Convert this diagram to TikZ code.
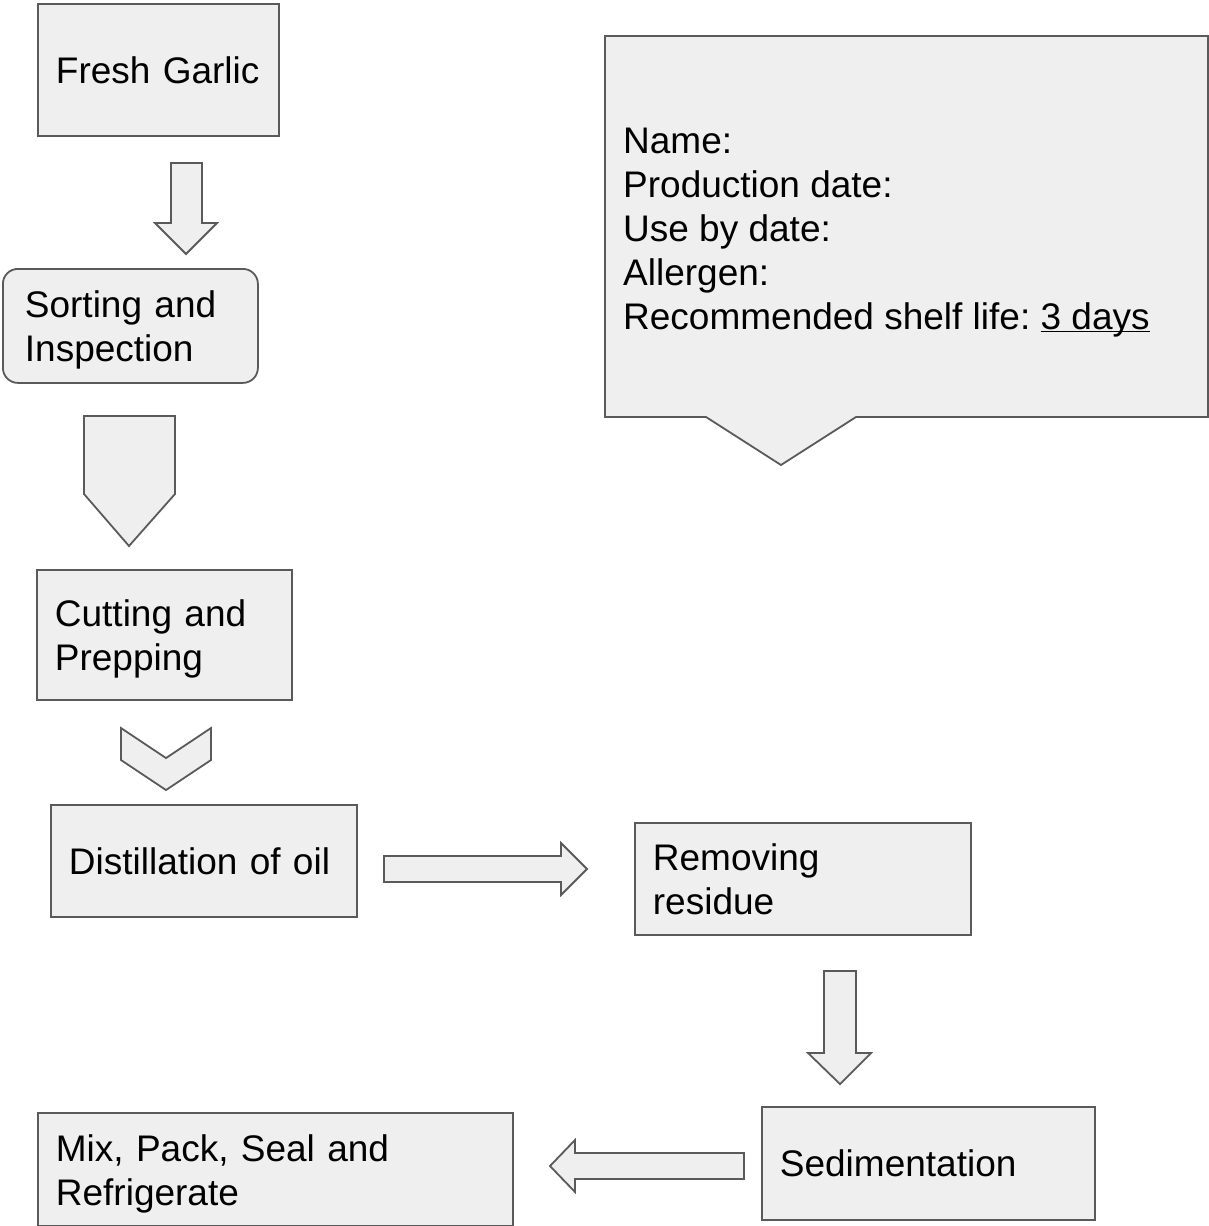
\documentclass[tikz,border=0pt]{standalone}
\usepackage{fontspec}
\setmainfont{Liberation Sans}
\definecolor{fondgris}{HTML}{EFEFEF}
\definecolor{bordgris}{HTML}{5A5A5A}
\newcommand{\hautligne}{\rule{0pt}{35pt}}
\tikzset{
  etape/.style={draw=bordgris, fill=fondgris, line width=1.8pt, rectangle,
    anchor=north west, inner xsep=18pt, inner ysep=0pt, align=left,
    font=\fontsize{37}{44}\selectfont},
  texte/.style={inner xsep=18pt, inner ysep=0pt, align=left,
    font=\fontsize{37}{44}\selectfont},
  fleche/.style={draw=bordgris, fill=fondgris, line width=1.8pt, line join=miter},
}

\begin{document}
\begin{tikzpicture}[x=1pt, y=-1pt]
  \useasboundingbox (0,0) rectangle (1209,1226);

  % Etapes du procede
  \node[etape, minimum width=241pt, minimum height=132pt, text width=205pt] (garlic) at (37,3) {Fresh Garlic};
  \node[etape, rounded corners=15pt, inner xsep=22pt, minimum width=255pt, minimum height=114pt, text width=211pt] (sorting) at (2,268) {\hautligne Sorting and\\Inspection};
  \node[etape, minimum width=255pt, minimum height=130pt, text width=219pt] (cutting) at (36,569) {\hautligne Cutting and\\Prepping};
  \node[etape, minimum width=306pt, minimum height=112pt, text width=270pt] (distill) at (50,804) {Distillation of oil};
  \node[etape, minimum width=336pt, minimum height=112pt, text width=300pt] (removing) at (634,822) {Removing\\residue};
  \node[etape, minimum width=333pt, minimum height=113pt, text width=297pt] (sediment) at (761,1106) {Sedimentation};
  \node[etape, minimum width=475pt, minimum height=113pt, text width=439pt] (mixpack) at (37,1112) {\hautligne Mix, Pack, Seal and\\Refrigerate};

  % Fleches
  \draw[fleche] (171,163) -- (202,163) -- (202,223) -- (217,223) -- (186,254) -- (155,223) -- (171,223) -- cycle;
  \draw[fleche] (84,416) -- (175,416) -- (175,494) -- (129,546) -- (84,494) -- cycle;
  \draw[fleche] (121,728) -- (166,758) -- (211,728) -- (211,760) -- (166,790) -- (121,760) -- cycle;
  \draw[fleche] (384,856) -- (561,856) -- (561,843) -- (587,869) -- (561,895) -- (561,882) -- (384,882) -- cycle;
  \draw[fleche] (824,971) -- (856,971) -- (856,1053) -- (871,1053) -- (840,1084) -- (808,1053) -- (824,1053) -- cycle;
  \draw[fleche] (744,1153) -- (575,1153) -- (575,1140) -- (550,1166) -- (575,1192) -- (575,1179) -- (744,1179) -- cycle;

  % Etiquette
  \draw[fleche] (605,36) -- (1208,36) -- (1208,417) -- (856,417) -- (781,465) -- (706,417) -- (605,417) -- cycle;
  \node[texte, anchor=west] (etiquette) at (605,230) {Name:\\Production date:\\Use by date:\\Allergen:\\Recommended shelf life:\ \underline{\smash{3 days}}};
\end{tikzpicture}
\end{document}
